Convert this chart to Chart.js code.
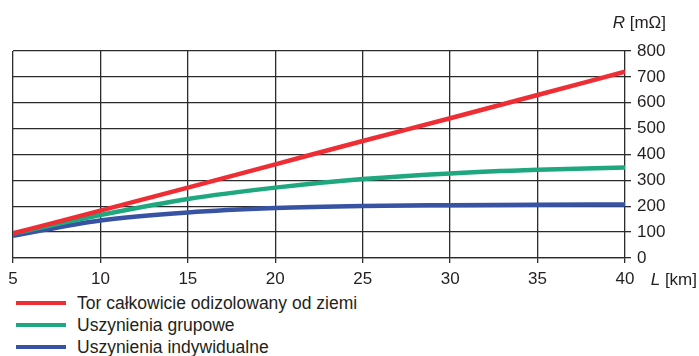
<!DOCTYPE html>
<html lang="pl">
<head>
    <meta charset="UTF-8">
    <title>R(L)</title>
    <script src="https://cdn.jsdelivr.net/npm/chart.js"></script>
    <style>
        body {
            margin: 0;
            background: #ffffff;
            font-family: 'Liberation Sans', Arial, sans-serif;
            color: #231f20;
        }
        #wrap {
            position: relative;
            width: 699px;
            height: 356px;
        }
        #chartBox {
            position: absolute;
            left: 0;
            top: 0;
            width: 699px;
            height: 292px;
        }
        #legend {
            position: absolute;
            left: 16px;
            top: 292px;
            font-size: 17.5px;
        }
        .item {
            display: flex;
            align-items: center;
            height: 22px;
        }
        .swatch {
            width: 50px;
            height: 4px;
            margin-right: 11px;
        }
    </style>
</head>
<body>
<div id="wrap">
    <div id="chartBox"><canvas id="myChart"></canvas></div>
    <div id="legend"></div>
</div>

<script>
    const lengths = [5, 10, 15, 20, 25, 30, 35, 40];
    const torIzolowany = [95, 183, 272, 362, 452, 540, 630, 720];
    const uszynieniaGrupowe = [95, 166, 228, 272, 305, 327, 341, 350];
    const uszynieniaIndywidualne = [86, 145, 176, 193, 201, 204, 206, 207];
    const yTicks = [0, 100, 200, 300, 400, 500, 600, 700, 800];

    const seriesNames = ['Tor całkowicie odizolowany od ziemi', 'Uszynienia grupowe', 'Uszynienia indywidualne'];
    const seriesColors = ['#ee2d34', '#1fa77f', '#3853a4'];
    const seriesData = [torIzolowany, uszynieniaGrupowe, uszynieniaIndywidualne];

    const font = { family: "'Liberation Sans', Arial, sans-serif", size: 17 };

    const datasets = seriesData.map((vals, i) => ({
        label: seriesNames[i],
        data: vals.map((v, j) => ({ x: lengths[j], y: v })),
        borderColor: seriesColors[i],
        backgroundColor: seriesColors[i],
        borderWidth: 4.5,
        pointRadius: 0,
        cubicInterpolationMode: 'monotone',
        fill: false
    }));

    // tytuły osi: R [mΩ] nad osią, L [km] za ostatnią etykietą
    // (litera italic + jednostka, wyrównane do prawej krawędzi)
    function drawTitle(c, sym, unit, right, y) {
        c.font = '17px ' + font.family;
        const wUnit = c.measureText(' ' + unit).width;
        c.font = 'italic 17px ' + font.family;
        const wSym = c.measureText(sym).width;
        c.textAlign = 'left';
        c.fillText(sym, right - wUnit - wSym, y);
        c.font = '17px ' + font.family;
        c.fillText(' ' + unit, right - wUnit, y);
    }

    const axisTitles = {
        id: 'axisTitles',
        afterDraw(chart) {
            const c = chart.ctx;
            const area = chart.chartArea;
            c.save();
            c.fillStyle = '#231f20';
            c.textBaseline = 'middle';
            drawTitle(c, 'R', '[mΩ]', 666, 23);
            drawTitle(c, 'L', '[km]', 697, area.bottom + 22);
            c.restore();
        }
    };

    const ctx = document.getElementById('myChart').getContext('2d');
    const myChart = new Chart(ctx, {
        type: 'line',
        data: { datasets: datasets },
        options: {
            responsive: true,
            maintainAspectRatio: false,
            animation: false,
            layout: { padding: { top: 51, left: 13, right: 0, bottom: 0 } },
            plugins: {
                legend: { display: false },
                tooltip: { enabled: false }
            },
            scales: {
                x: {
                    type: 'linear',
                    min: 5,
                    max: 40,
                    afterBuildTicks: axis => { axis.ticks = lengths.map(v => ({ value: v })); },
                    afterFit: axis => { axis.height = 34; },
                    grid: { color: '#2b2b2b', lineWidth: 1.3, tickLength: 5, drawTicks: true },
                    border: { color: '#2b2b2b', width: 1.3 },
                    ticks: { color: '#231f20', font: font, padding: 6, maxRotation: 0 }
                },
                y: {
                    position: 'right',
                    min: 0,
                    max: 800,
                    afterBuildTicks: axis => { axis.ticks = yTicks.map(v => ({ value: v })); },
                    afterFit: axis => { axis.width = 74; },
                    grid: { color: '#2b2b2b', lineWidth: 1.3, tickLength: 6 },
                    border: { display: false },
                    ticks: { color: '#231f20', font: font, padding: 6 }
                }
            }
        },
        plugins: [axisTitles]
    });

    const legendDiv = document.getElementById('legend');
    seriesNames.forEach((name, i) => {
        const row = document.createElement('div');
        row.className = 'item';
        row.innerHTML = '<span class="swatch" style="background:' + seriesColors[i] + '"></span><span>' + name + '</span>';
        legendDiv.appendChild(row);
    });
</script>
</body>
</html>
